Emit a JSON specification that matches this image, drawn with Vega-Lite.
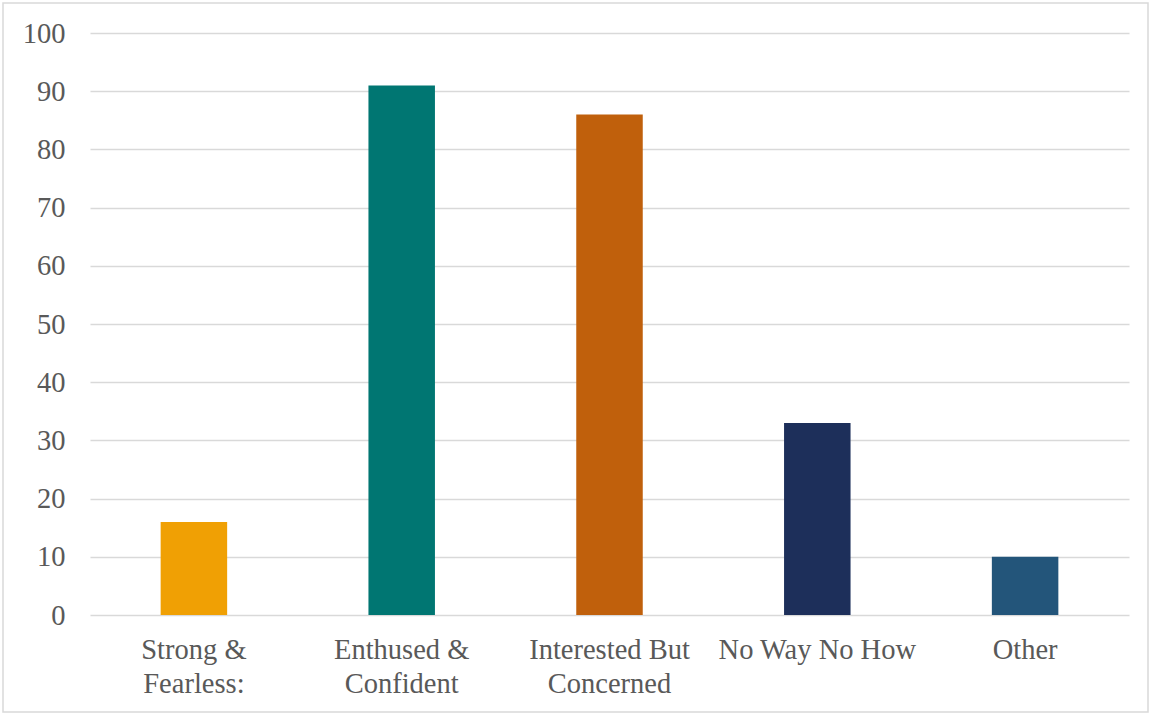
{
  "$schema": "https://vega.github.io/schema/vega-lite/v6.json",
  "width": 1145,
  "height": 709,
  "padding": 3,
  "autosize": {"type": "none"},
  "background": "white",
  "data": {
    "values": [
      {"group": "Strong & Fearless:", "count": 16, "color": "#F0A004"},
      {"group": "Enthused & Confident", "count": 91, "color": "#007672"},
      {"group": "Interested But Concerned", "count": 86, "color": "#C0600C"},
      {"group": "No Way No How", "count": 33, "color": "#1D2F5A"},
      {"group": "Other", "count": 10, "color": "#23557A"}
    ]
  },
  "mark": {"type": "bar"},
  "encoding": {
    "x": {
      "field": "group",
      "type": "nominal",
      "sort": null,
      "scale": {"range": [87, 1126], "paddingInner": 0.68, "paddingOuter": 0.34},
      "axis": {
        "title": null,
        "orient": "bottom",
        "offset": -97,
        "domain": false,
        "ticks": false,
        "labelAngle": 0,
        "labelPadding": 20,
        "labelLimit": 400,
        "labelFont": "Liberation Serif",
        "labelFontSize": 28.5,
        "labelColor": "#595959",
        "labelLineHeight": 34,
        "labelBaseline": "top",
        "labelExpr": "datum.value == 'Strong & Fearless:' ? ['Strong &', 'Fearless:'] : datum.value == 'Enthused & Confident' ? ['Enthused &', 'Confident'] : datum.value == 'Interested But Concerned' ? ['Interested But', 'Concerned'] : datum.value"
      }
    },
    "y": {
      "field": "count",
      "type": "quantitative",
      "scale": {"domain": [0, 100], "range": [612, 30], "nice": false},
      "axis": {
        "title": null,
        "orient": "left",
        "offset": -87,
        "values": [0, 10, 20, 30, 40, 50, 60, 70, 80, 90, 100],
        "domain": false,
        "ticks": false,
        "labelPadding": 25,
        "labelFont": "Liberation Serif",
        "labelFontSize": 28.5,
        "labelColor": "#595959",
        "grid": true,
        "gridColor": "#D9D9D9",
        "gridWidth": 1.4
      }
    },
    "color": {"field": "color", "type": "nominal", "scale": null, "legend": null}
  },
  "config": {
    "view": {"stroke": "#D9D9D9", "strokeWidth": 1.5}
  }
}
